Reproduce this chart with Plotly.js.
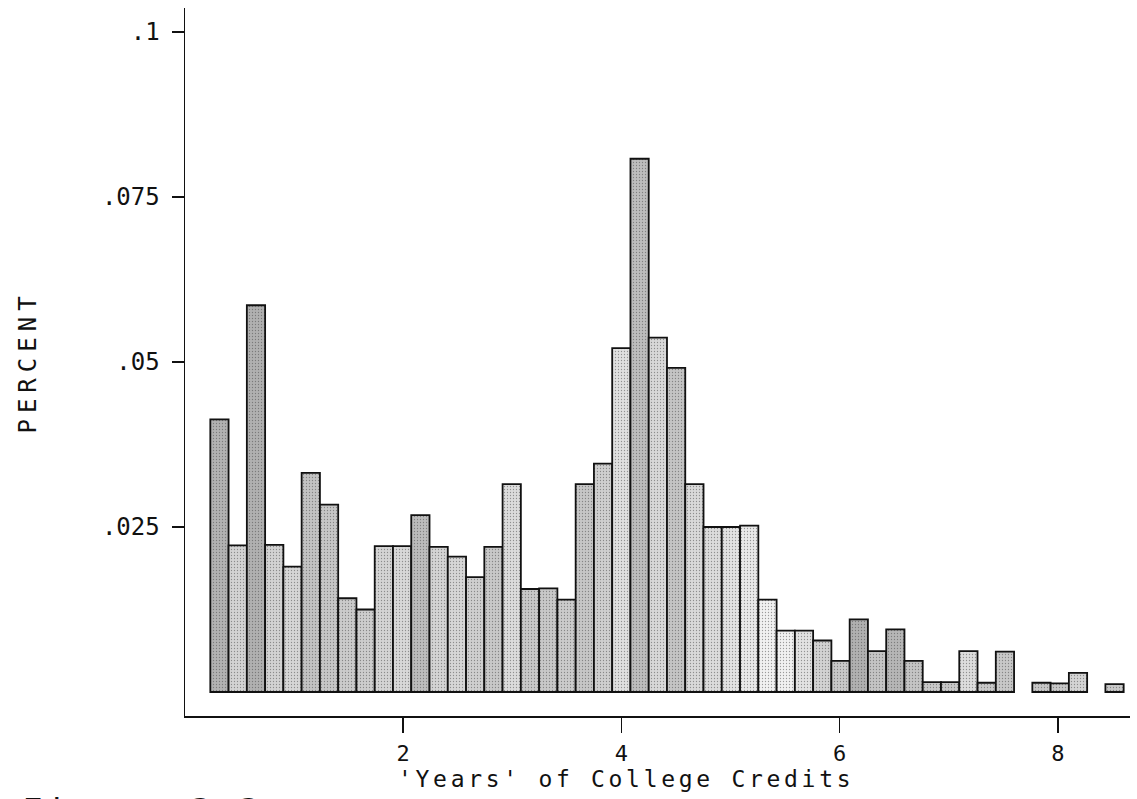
<!DOCTYPE html>
<html>
<head>
<meta charset="utf-8">
<script src="https://cdn.plot.ly/plotly-3.0.1.min.js"></script>
<style>
  html, body { margin: 0; padding: 0; background: #fff; }
  #chart { width: 1137px; height: 799px; }
  .g-ytitle text { letter-spacing: 6px; }
  .annotation-text { letter-spacing: 3.7px; }
</style>
</head>
<body>
<div id="chart"></div>
<script>
// Histogram of college credits, one bin per sixth of a year
const binStart = 0.232;   // lower edge of the first bin (years)
const binWidth = 0.1674;  // width of each bin (years)

// Fraction of respondents in each bin (null = empty bin)
const percent = [
  0.0413, 0.0222, 0.0586, 0.0223, 0.0190, 0.0332, 0.0284, 0.0142, 0.0125, 0.0221,
  0.0221, 0.0268, 0.0220, 0.0205, 0.0174, 0.0220, 0.0315, 0.0156, 0.0157, 0.0140,
  0.0315, 0.0346, 0.0521, 0.0808, 0.0537, 0.0491, 0.0315, 0.0250, 0.0250, 0.0252,
  0.0140, 0.0093, 0.0093, 0.0078, 0.0047, 0.0110, 0.0062, 0.0095, 0.0047, 0.0015,
  0.0015, 0.0062, 0.0014, 0.0061, null,   0.0014, 0.0013, 0.0029, null,   0.0012
];

// Grey tone of each bar's stippled fill
const binShade = [
  '#b2b2b2', '#d3d3d3', '#b0b0b0', '#d2d2d2', '#d6d6d6', '#c2c2c2', '#c6c6c6', '#cbcbcb', '#cdcdcd', '#d4d4d4',
  '#d8d8d8', '#bcbcbc', '#d4d4d4', '#d6d6d6', '#cfcfcf', '#c8c8c8', '#dcdcdc', '#c8c8c8', '#c8c8c8', '#cbcbcb',
  '#c6c6c6', '#cfcfcf', '#e0e0e0', '#bdbdbd', '#d8d8d8', '#c4c4c4', '#d9d9d9', '#dcdcdc', '#e2e2e2', '#e9e9e9',
  '#f1f1f1', '#f1f1f1', '#e2e2e2', '#d2d2d2', '#c9c9c9', '#b0b0b0', '#c4c4c4', '#b6b6b6', '#c4c4c4', '#c8c8c8',
  '#c8c8c8', '#dddddd', '#c8c8c8', '#c8c8c8', '#ffffff', '#c8c8c8', '#c8c8c8', '#d4d4d4', '#ffffff', '#c8c8c8'
];

const xTickVals = [2, 4, 6, 8];
const xTickText = ['2', '4', '6', '8'];
const yTickVals = [0.025, 0.05, 0.075, 0.1];
const yTickText = ['.025', '.05', '.075', '.1'];

const xTitle = "'Years' of College Credits";
const yTitle = 'PERCENT';
const figureLabel = 'Figure 3.3';

const binCenters = percent.map((_, i) => binStart + binWidth * (i + 0.5));

const mono = 'DejaVu Sans Mono, Liberation Mono, monospace';

const trace = {
  type: 'bar',
  x: binCenters,
  y: percent,
  width: binWidth,
  marker: {
    color: binShade,
    line: { color: '#111', width: 1.8 },
    pattern: { shape: '.', fillmode: 'overlay', fgcolor: '#555', size: 3, solidity: 0.15 }
  },
  hoverinfo: 'x+y'
};

const layout = {
  width: 1137,
  height: 799,
  margin: { l: 185, r: 7, t: 8, b: 83 },
  paper_bgcolor: '#fff',
  plot_bgcolor: '#fff',
  showlegend: false,
  font: { family: mono, color: '#111', size: 22 },
  xaxis: {
    range: [0, 8.66],
    tickmode: 'array',
    tickvals: xTickVals,
    ticktext: xTickText,
    ticks: 'outside',
    ticklen: 15,
    tickwidth: 1.5,
    tickcolor: '#111',
    ticklabelstandoff: 2,
    showline: true,
    linecolor: '#111',
    linewidth: 1.5,
    showgrid: false,
    zeroline: false,
    tickfont: { family: mono, size: 22, color: '#111' }
  },
  yaxis: {
    range: [-0.00364, 0.10364],
    tickmode: 'array',
    tickvals: yTickVals,
    ticktext: yTickText,
    ticks: 'outside',
    ticklen: 12,
    tickwidth: 1.5,
    tickcolor: '#111',
    ticklabelstandoff: 7,
    showline: true,
    linecolor: '#111',
    linewidth: 1.5,
    showgrid: false,
    zeroline: false,
    tickfont: { family: mono, size: 24, color: '#111' },
    title: { text: yTitle, font: { family: mono, size: 24, color: '#111' }, standoff: 58 }
  },
  annotations: [
    {
      text: xTitle, xref: 'paper', yref: 'paper',
      x: 0.4667, y: -0.089, xanchor: 'center', yanchor: 'middle',
      showarrow: false, font: { family: mono, size: 23, color: '#111' }
    },
    {
      text: figureLabel, xref: 'paper', yref: 'paper',
      x: -0.1746, y: -0.103, xanchor: 'left', yanchor: 'top',
      showarrow: false, font: { family: mono, size: 34, color: '#111' }
    }
  ]
};

Plotly.newPlot('chart', [trace], layout, { displayModeBar: false, staticPlot: true });
</script>
</body>
</html>
